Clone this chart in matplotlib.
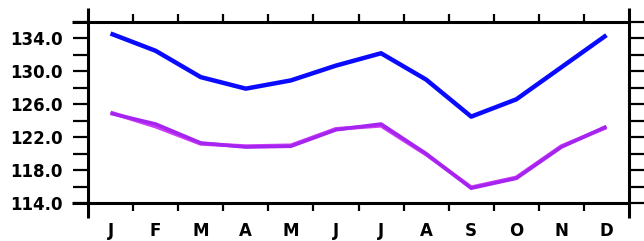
import numpy as np
import matplotlib.pyplot as plt

months = ["J", "F", "M", "A", "M", "J", "J", "A", "S", "O", "N", "D"]
blue_vals = [134.6, 132.5, 129.3, 127.9, 128.9, 130.7, 132.2, 129.0, 124.5, 126.6, 130.5, 134.4]
purple_vals = [124.9, 123.6, 121.3, 120.8, 120.9, 122.9, 123.6, 120.0, 115.8, 117.0, 120.8, 123.3]
magenta_vals = [125.0, 123.3, 121.2, 120.9, 121.0, 123.0, 123.4, 119.9, 115.9, 117.1, 120.9, 123.2]
yticks = [114.0, 118.0, 122.0, 126.0, 130.0, 134.0]

plt.rcParams["font.family"] = "DejaVu Sans"
plt.rcParams["font.weight"] = "bold"

fig = plt.figure(figsize=(6.44, 2.41), dpi=100)
ax = fig.add_axes([88 / 644, 38 / 241, 541 / 644, 181 / 241])

x = np.arange(len(months))
ax.plot(x, magenta_vals, color="#cc3cf5", lw=2.8, solid_capstyle="butt")
ax.plot(x, purple_vals, color="#a624f0", lw=2.6, solid_capstyle="butt")
ax.plot(x, blue_vals, color="#0a0aff", lw=3.2, solid_capstyle="butt")

ax.set_xlim(-0.5, 11.5)
ax.set_ylim(114, 136)

# frame with overhanging edges
for spine in ax.spines.values():
    spine.set_visible(False)
frame = dict(color="black", lw=2.2, transform=ax.transAxes, clip_on=False, solid_capstyle="butt")
ax.plot([-0.03, 1.0], [1, 1], **frame)
ax.plot([-0.03, 1.0], [0, 0], **frame)
ax.plot([0, 0], [-0.083, 1.077], **frame)
ax.plot([1, 1], [-0.083, 1.077], **frame)

# x: labels at month centres, tick marks at month boundaries
ax.set_xticks(x)
ax.set_xticklabels(months, fontsize=12, fontweight="bold")
ax.tick_params(axis="x", which="major", length=0, pad=14)
ax.set_xticks(np.arange(0.5, 11, 1), minor=True)
ax.tick_params(axis="x", which="minor", length=6, width=1.6, top=True, bottom=True, direction="out")

ax.set_yticks(yticks)
ax.set_yticklabels([f"{v:.1f}" for v in yticks], fontsize=12, fontweight="bold")
ax.set_yticks(np.arange(114, 136.1, 2), minor=True)
ax.tick_params(axis="y", which="both", length=11, width=1.6, left=True, right=True, direction="out")
ax.tick_params(axis="y", which="major", pad=7)

fig.savefig("out.png", dpi=100)
